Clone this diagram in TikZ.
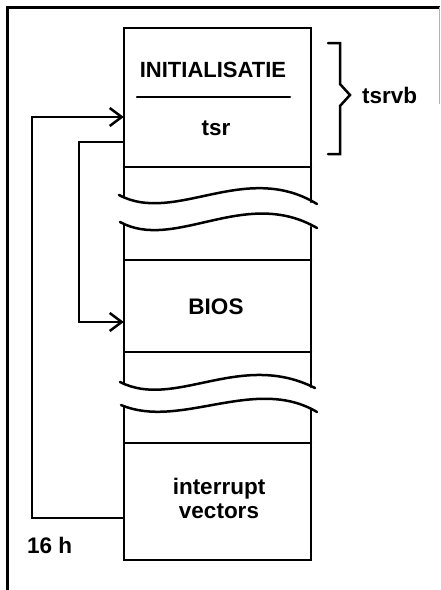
\documentclass[tikz,border=0pt]{standalone}
\usepackage{fontspec}
\setmainfont{Liberation Sans}
\usetikzlibrary{arrows.meta}
\begin{document}
\begin{tikzpicture}[x=1pt,y=-1pt,
  ln/.style={line width=2.5pt, line cap=round, line join=miter},
  lbl/.style={font=\fontsize{22.5}{24}\selectfont\bfseries, inner sep=0pt, align=center},
  blk/.style={draw=none, inner sep=0pt, minimum width=187pt},
  arr/.style={ln, -{Straight Barb[length=12pt,width=18pt,line width=2.5pt]}}]
\useasboundingbox (0,0) rectangle (440,590);
% frame
\draw[line width=3pt] (7.5,590) -- (7.5,7) -- (440,7);
\draw[line width=1pt, gray!60] (439,7) -- (439,104);
% block nodes (for naming)
\node[blk, minimum height=139pt] (top) at (217.5,97.5) {};
\node[blk, minimum height=92pt] (bios) at (217.5,306) {};
\node[blk, minimum height=117pt] (ivec) at (217.5,501.5) {};
% top part
\draw[ln] (124,197) -- (124,28) -- (311,28) -- (311,202);
\draw[ln] (124,167) -- (311,167);
\draw[ln] (137,97) -- (290,97);
% waves
\draw[ln] (119,195) .. controls (175,225) and (245,160) .. (317,204);
\draw[ln] (120,222) .. controls (175,252) and (245,186) .. (317,228);
% middle part
\draw[ln] (124,224) -- (124,384);
\draw[ln] (311,227) -- (311,387);
\draw[ln] (124,260) -- (311,260);
\draw[ln] (124,352) -- (311,352);
\draw[ln] (120,382) .. controls (175,410) and (240,350) .. (315,388);
\draw[ln] (121,405) .. controls (180,430) and (255,375) .. (317,412);
% bottom part
\draw[ln] (124,407) -- (124,560) -- (311,560) -- (311,410);
\draw[ln] (124,443) -- (311,443);
% texts
\node[lbl, font=\fontsize{22}{24}\selectfont\bfseries] (init) at (213,70) {INITIALISATIE};
\node[lbl] (tsr) at (216,128) {tsr};
\node[lbl] (biosl) at (216,307) {BIOS};
\node[lbl] (ivl) at (219,498) {interrupt\\vectors};
\node[lbl, anchor=west] (tsrvb) at (362,95) {tsrvb};
\node[lbl, anchor=west] (hex) at (27,545) {16 h};
% brace
\draw[ln, line join=miter] (328,43) -- (340,43) -- (340,84) -- (350,95) -- (340,106) -- (340,154) -- (328,154);
% connectors
\coordinate (ivin) at (ivec.west |- 0,518);
\coordinate (topin) at (top.west |- 0,117);
\coordinate (topout) at (top.west |- 0,142);
\coordinate (biosin) at (bios.west |- 0,322);
\draw[arr] (ivin) -- (32,518) -- (32,117) -- (topin);
\draw[arr] (topout) -- (79,142) -- (79,322) -- (biosin);
\end{tikzpicture}
\end{document}
